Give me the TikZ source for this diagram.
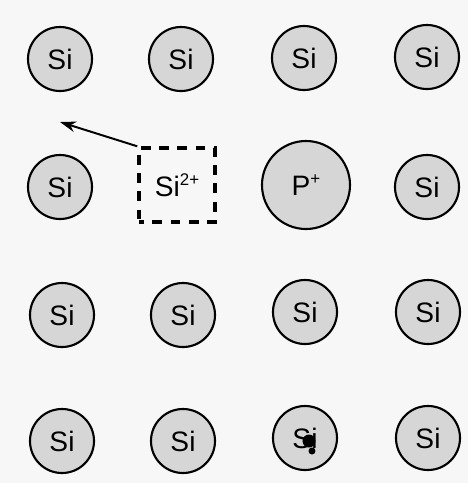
\documentclass[tikz,border=0pt]{standalone}
\usepackage{fontspec}
\setmainfont{Liberation Sans}
\usetikzlibrary{arrows.meta}

\definecolor{paper}{RGB}{247,247,247}
\definecolor{shade}{RGB}{214,214,214}

\newcommand{\charge}[1]{\raisebox{8pt}{\fontsize{12}{13}\selectfont #1}}

\begin{document}
\begin{tikzpicture}[x=0.025cm, y=-0.025cm,
        atom/.style={circle, draw, line width=1.5pt, fill=shade, minimum size=1.6cm, inner sep=0pt, font=\fontsize{20}{24}\selectfont},
        ion/.style={atom, minimum size=2.2cm},
        vacancy/.style={draw, line width=2.4pt, dash pattern=on 7pt off 6pt, dash phase=3.5pt, minimum width=1.9cm, minimum height=1.85cm, inner sep=0pt, font=\fontsize{20}{24}\selectfont}]
        % Background
        \fill[paper] (0,0) rectangle (468,483);

        % Silicon lattice
        \foreach \n/\px/\py in {a1/60/59, b1/181/59, c1/304/58, d1/427/57,
                                a2/60/187, d2/427/187,
                                a3/62/315, b3/183/315, c3/305/312, d3/428/312,
                                a4/62/441, b4/183/441, c4/305/438, d4/428/438}
            \node[atom] (si-\n) at (\px,\py) {Si};

        % Donor ion and vacancy
        \node[ion] (phos) at (306,185) {P\charge{+}};
        \node[vacancy] (vac) at (177,185) {Si\charge{2+}};

        % Ejected ion
        \coordinate (away) at (60,122);
        \draw[-{Stealth[length=0.4cm, width=0.27cm]}, line width=1.4pt] (vac.north west) -- (away);

        % Ink spot
        \fill[black] (309,441) circle (6.5);
        \fill[black] (312,451) circle (3.5);
    \end{tikzpicture}
\end{document}
